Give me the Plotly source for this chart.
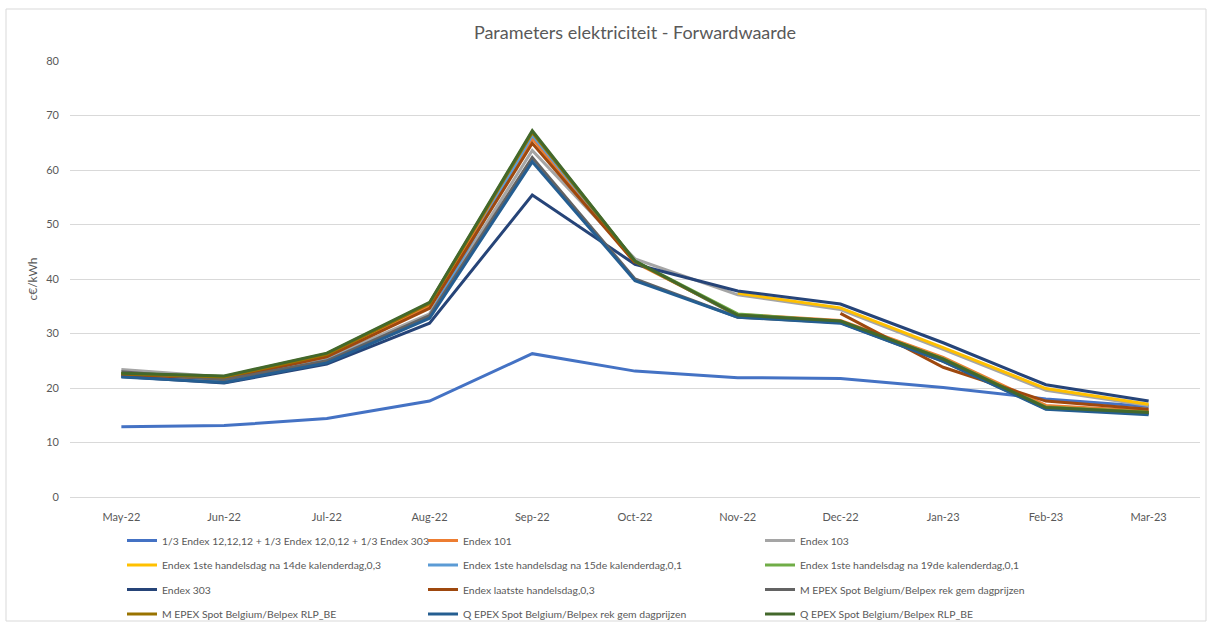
import plotly.graph_objects as go

months = ["May-22", "Jun-22", "Jul-22", "Aug-22", "Sep-22", "Oct-22", "Nov-22",
          "Dec-22", "Jan-23", "Feb-23", "Mar-23"]

s_mix = [12.9, 13.1, 14.4, 17.6, 26.3, 23.1, 21.9, 21.75, 20.1, 18.0, 16.6]
s_endex101 = [22.6, 21.6, 25.9, 35.0, 65.8, 43.0, 33.5, 32.4, 25.6, 16.8, 15.8]
s_endex103 = [23.4, 22.0, 25.5, 33.6, 63.6, 43.7, 37.1, 34.4, 27.1, 19.6, 16.8]
s_14de = [None, None, None, None, None, None, 37.4, 34.7, 27.4, 19.9, 17.0]
s_15de = [22.3, 21.3, 25.0, 33.2, 66.4, 43.3, 33.2, 32.0, 25.0, 16.3, 15.4]
s_19de = [22.7, 22.1, 26.3, 35.6, 67.0, 43.3, 33.6, 32.2, 25.4, 16.5, 15.6]
s_endex303 = [22.1, 20.9, 24.4, 31.9, 55.4, 42.7, 37.8, 35.4, 28.3, 20.6, 17.6]
s_laatste = [22.5, 21.7, 25.7, 34.6, 64.9, 43.0, None, 33.7, 23.8, 17.6, 16.1]
s_m_rek = [23.0, 21.5, 25.0, 33.3, 62.3, 40.0, 33.0, 32.0, 24.9, 16.2, 15.3]
s_m_rlp = [22.6, 22.0, 26.2, 35.5, 66.9, 43.2, 33.3, 32.2, 25.3, 16.4, 15.5]
s_q_rek = [22.0, 21.0, 24.6, 32.8, 61.5, 39.7, 33.0, 31.9, 24.9, 16.1, 15.1]
s_q_rlp = [22.7, 22.2, 26.4, 35.7, 67.2, 43.3, 33.4, 32.3, 25.3, 16.4, 15.5]

series = [
    ("1/3 Endex 12,12,12 + 1/3 Endex 12,0,12 + 1/3 Endex 303", s_mix, "#4472C4", "legend"),
    ("Endex 101", s_endex101, "#ED7D31", "legend2"),
    ("Endex 103", s_endex103, "#A5A5A5", "legend3"),
    ("Endex 1ste handelsdag na 14de kalenderdag,0,3", s_14de, "#FFC000", "legend"),
    ("Endex 1ste handelsdag na 15de kalenderdag,0,1", s_15de, "#5B9BD5", "legend2"),
    ("Endex 1ste handelsdag na 19de kalenderdag,0,1", s_19de, "#70AD47", "legend3"),
    ("Endex 303", s_endex303, "#264478", "legend"),
    ("Endex laatste handelsdag,0,3", s_laatste, "#9E480E", "legend2"),
    ("M EPEX Spot Belgium/Belpex rek gem dagprijzen", s_m_rek, "#636363", "legend3"),
    ("M EPEX Spot Belgium/Belpex RLP_BE", s_m_rlp, "#997300", "legend"),
    ("Q EPEX Spot Belgium/Belpex rek gem dagprijzen", s_q_rek, "#255E91", "legend2"),
    ("Q EPEX Spot Belgium/Belpex RLP_BE", s_q_rlp, "#43682B", "legend3"),
]

fig = go.Figure()
for i, (name, vals, color, lg) in enumerate(series):
    fig.add_trace(go.Scatter(
        x=months, y=vals, name=name, mode="lines",
        line=dict(color=color, width=3),
        legend=lg, legendgroup=f"g{i}", connectgaps=False,
    ))

FONT = "Lato"
TXT = "#595959"

L, R, T, B = 70, 1200, 61, 497
W, H = 1212, 623
pw, ph = R - L, B - T

def px(xp):
    return (xp - L) / pw

def py(yp):
    return (B - yp) / ph

leg_common = dict(
    orientation="v", yanchor="top", xanchor="left",
    font=dict(family=FONT, size=10.4, color=TXT),
    bgcolor="rgba(0,0,0,0)", tracegroupgap=5.5, itemwidth=30,
)

fig.update_layout(
    width=W, height=H,
    margin=dict(l=L, r=W - R, t=T, b=H - B, autoexpand=False),
    paper_bgcolor="white", plot_bgcolor="white",
    font=dict(family=FONT, color=TXT),
    title=dict(text="Parameters elektriciteit - Forwardwaarde",
               x=0.5, xref="paper", xanchor="center",
               y=1 - 33 / H, yanchor="middle",
               font=dict(family=FONT, size=18, color=TXT)),
    legend=dict(x=px(122), y=py(526), **leg_common),
    legend2=dict(x=px(423), y=py(526), **leg_common),
    legend3=dict(x=px(760), y=py(526), **leg_common),
    xaxis=dict(
        type="category", showgrid=False, zeroline=False,
        showline=True, linecolor="#D9D9D9", linewidth=1,
        tickfont=dict(family=FONT, size=11, color=TXT),
        ticks="", ticklabelstandoff=10, range=[-0.5, 10.5],
    ),
    yaxis=dict(
        range=[0, 80], dtick=10, showgrid=True, gridcolor="#D9D9D9", gridwidth=1,
        zeroline=False, showline=False,
        tickfont=dict(family=FONT, size=11, color=TXT),
        ticks="", ticklabelstandoff=10,
        title=dict(text="c€/kWh", font=dict(family=FONT, size=12, color=TXT), standoff=6),
    ),
    shapes=[dict(
        type="rect", xref="paper", yref="paper",
        x0=px(6), x1=px(1206), y0=py(621), y1=py(9),
        line=dict(color="#D9D9D9", width=1), fillcolor="rgba(0,0,0,0)", layer="below",
    )],
    showlegend=True,
)

fig.write_html("out.html", config={"displayModeBar": False},
               post_script="document.body.style.margin='0';")
